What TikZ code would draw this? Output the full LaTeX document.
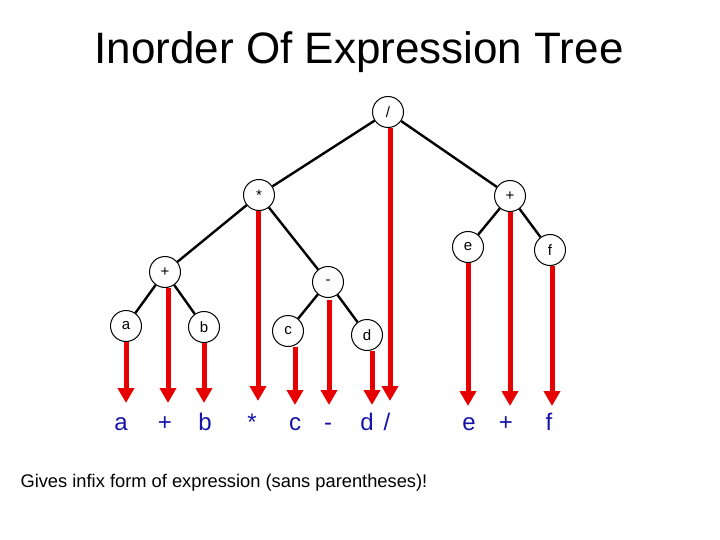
\documentclass[tikz,border=0pt]{standalone}
\usepackage{fontspec}
\setmainfont{Liberation Sans}
\usetikzlibrary{arrows.meta}
\definecolor{arr}{RGB}{230,0,0}
\definecolor{lab}{RGB}{20,20,170}
\begin{document}
\begin{tikzpicture}[x=1pt,y=-1pt,
  tn/.style={circle,draw,fill=white,line width=1pt,minimum size=31pt,inner sep=0pt,font=\fontsize{15}{15}\selectfont},
  edge/.style={line width=2.4pt},
  red/.style={draw=arr,line width=5pt,-{Triangle[width=16pt,length=15pt]}},
  lb/.style={text=lab,font=\fontsize{24}{24}\selectfont,anchor=base}]
\useasboundingbox (0,0) rectangle (720,540);
\node[font=\fontsize{44}{44}\selectfont] (title) at (359,52) {Inorder Of Expression Tree};
\node[anchor=west,font=\fontsize{18.3}{18}\selectfont] (note) at (17,483) {Gives infix form of expression (sans parentheses)!};
\node[tn] (div) at (388,112) {/};
\node[tn] (mul) at (259,195) {*};
\node[tn] (plr) at (510,196) {+};
\node[tn] (pll) at (165,272) {+};
\node[tn] (min) at (328,282) {-};
\node[tn] (e) at (468,247) {e};
\node[tn] (f) at (550,250) {f};
\node[tn] (a) at (126,326) {a};
\node[tn] (b) at (204,327) {b};
\node[tn] (c) at (288,331) {c};
\node[tn] (d) at (367,335) {d};
\draw[edge] (div) -- (mul);
\draw[edge] (div) -- (plr);
\draw[edge] (mul) -- (pll);
\draw[edge] (mul) -- (min);
\draw[edge] (pll) -- (a);
\draw[edge] (pll) -- (b);
\draw[edge] (min) -- (c);
\draw[edge] (min) -- (d);
\draw[edge] (plr) -- (e);
\draw[edge] (plr) -- (f);
\coordinate (ta) at (126,403); \coordinate (tpl) at (168,403); \coordinate (tb) at (204,403);
\coordinate (tm) at (258,401); \coordinate (tc) at (295,405); \coordinate (tmi) at (329,405);
\coordinate (td) at (372,405); \coordinate (tdv) at (390,401); \coordinate (te) at (468,406);
\coordinate (tpr) at (510,406); \coordinate (tf) at (552,406);
\coordinate (sm) at (329,300);
\draw[red] (a.south) -- (ta);
\draw[red] (pll.south -| tpl) -- (tpl);
\draw[red] (b.south) -- (tb);
\draw[red] (mul.south -| tm) -- (tm);
\draw[red] (c.south -| tc) -- (tc);
\draw[red] (sm) -- (tmi);
\draw[red] (d.south -| td) -- (td);
\draw[red] (div.south -| tdv) -- (tdv);
\draw[red] (e.south) -- (te);
\draw[red] (plr.south) -- (tpr);
\draw[red] (f.south -| tf) -- (tf);
\node[lb] (la) at (121,430) {a};
\node[lb] (lp1) at (165,430) {+};
\node[lb] (lbb) at (205,430) {b};
\node[lb] (lm) at (252,430) {*};
\node[lb] (lc) at (295,430) {c};
\node[lb] (lmi) at (328,430) {-};
\node[lb] (ld) at (367,430) {d};
\node[lb] (ldv) at (387,430) {/};
\node[lb] (le) at (469,430) {e};
\node[lb] (lp2) at (506,430) {+};
\node[lb] (lf) at (549,430) {f};
\end{tikzpicture}
\end{document}
